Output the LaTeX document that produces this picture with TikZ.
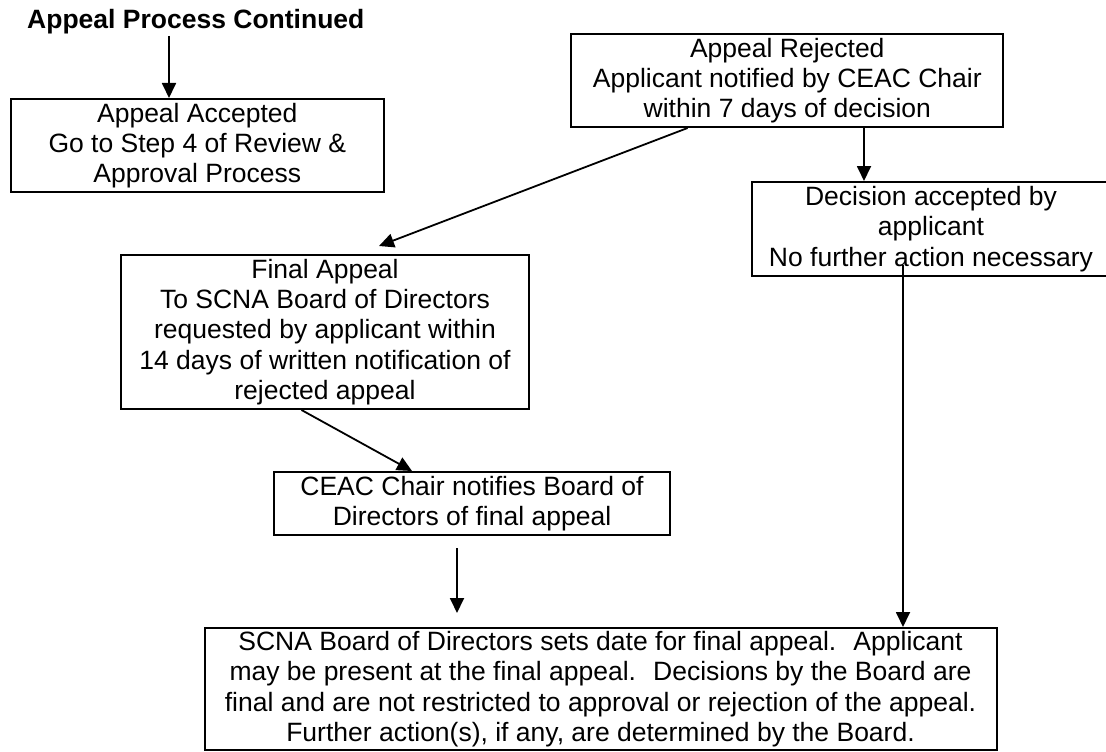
\documentclass[tikz,border=0pt]{standalone}
\usepackage{fontspec}
\setmainfont{Liberation Sans}
\usetikzlibrary{arrows.meta}
\begin{document}
\begin{tikzpicture}[x=1pt,y=-1pt,
  box/.style={draw, line width=2pt, rectangle, inner sep=0pt, align=center,
    font=\fontsize{26.5}{30.3}\selectfont},
  arr/.style={line width=1.8pt, -{Triangle[length=15pt,width=14pt]}}]
\useasboundingbox (0,0) rectangle (1106,752);
\node[anchor=west, inner sep=0pt, font=\fontsize{26.5}{30}\selectfont\bfseries] (title) at (27,22) {Appeal Process Continued};
\node[box, minimum width=373pt, minimum height=93pt] (acc) at (197.3,145.5)
  {Appeal Accepted\\Go to Step 4 of Review \&\\Approval Process};
\node[box, minimum width=432pt, minimum height=93pt] (rej) at (787.3,80.5)
  {Appeal Rejected\\Applicant notified by CEAC Chair\\within 7 days of decision};
\node[box, minimum width=358pt, minimum height=94pt] (dec) at (931,229)
  {Decision accepted by\\applicant\\No further action necessary};
\node[box, minimum width=408pt, minimum height=154pt] (fin) at (325,332)
  {Final Appeal\\To SCNA Board of Directors\\requested by applicant within\\14 days of written notification of\\rejected appeal};
\node[box, minimum width=396pt, minimum height=63pt] (ceac) at (472,503.5)
  {CEAC Chair notifies Board of\\Directors of final appeal};
\node[box, minimum width=792pt, minimum height=122pt] (bot) at (600.5,689)
  {SCNA Board of Directors sets date for final appeal.~ Applicant\\may be present at the final appeal.~ Decisions by the Board are\\final and are not restricted to approval or rejection of the appeal.\\Further action(s), if any, are determined by the Board.};
% connectors
\coordinate (a1) at (169,36);
\draw[arr] (a1) -- (a1 |- acc.north);
\coordinate (a2) at (864,0);
\draw[arr] (a2 |- rej.south) -- (a2 |- dec.north);
\coordinate (a3s) at (687.6,0);
\coordinate (a3e) at (379,246);
\draw[arr] (a3s |- rej.south) -- (a3e);
\coordinate (a4s) at (301.5,0);
\coordinate (a4e) at (412,0);
\draw[arr] (a4s |- fin.south) -- (a4e |- ceac.north);
\coordinate (a5s) at (457,548);
\coordinate (a5e) at (457,613);
\draw[arr] (a5s) -- (a5e);
\coordinate (a6s) at (903,265);
\draw[arr] (a6s) -- (a6s |- bot.north);
\end{tikzpicture}
\end{document}
